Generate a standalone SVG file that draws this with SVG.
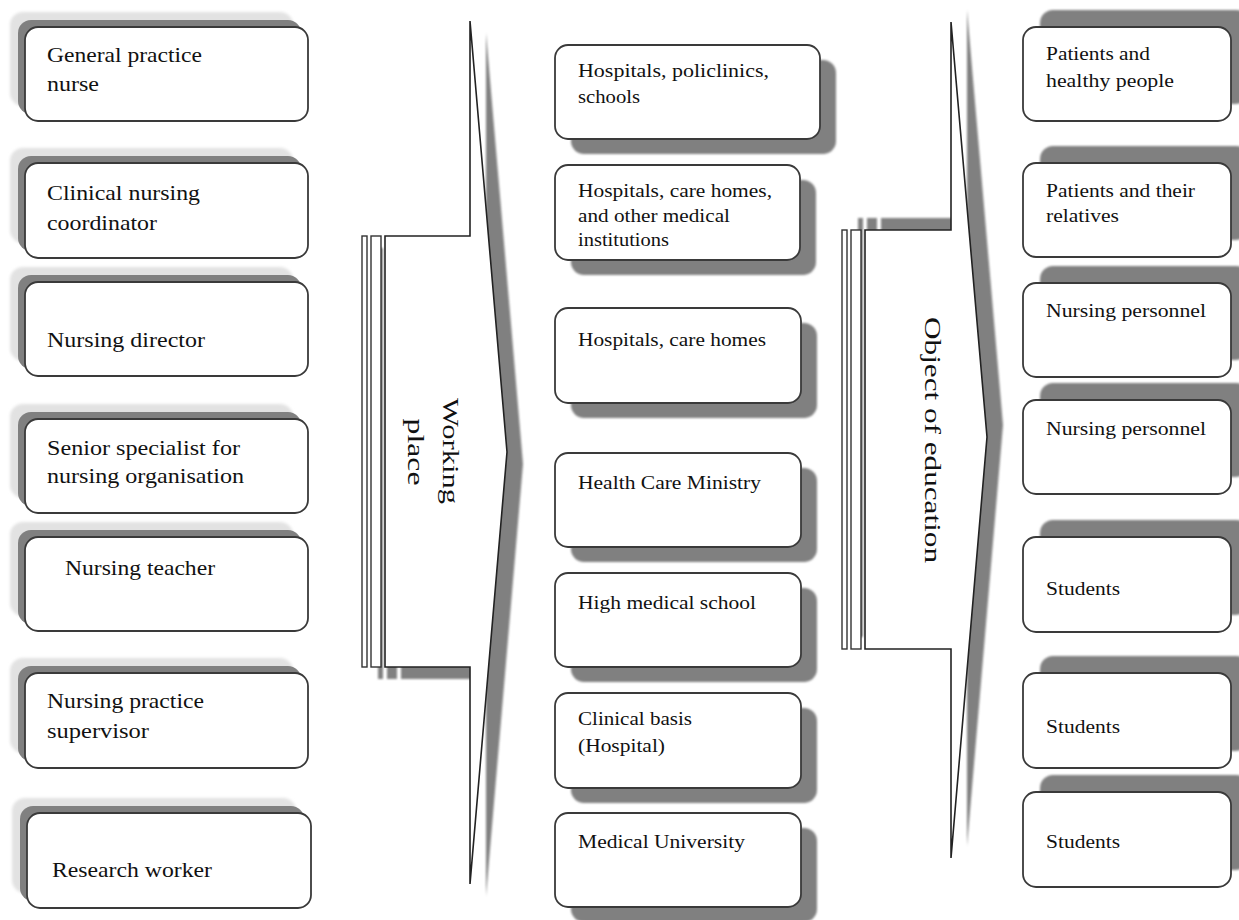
<svg xmlns="http://www.w3.org/2000/svg" width="1239" height="920" viewBox="0 0 1239 920">
<style>
.box{fill:#fff;stroke:#3a3a3a;stroke-width:1.8}
.sh{fill:#808080}
.shl{fill:#e2e2e2}
.arr{fill:#fff;stroke:#222;stroke-width:1.6;stroke-linejoin:miter}
.stripe{fill:#fff;stroke:#333;stroke-width:1.4}
.ash{fill:#808080}
.tl{font-family:"Liberation Serif","Times New Roman",serif;font-size:22px;fill:#111}
.tm{font-family:"Liberation Serif","Times New Roman",serif;font-size:18.5px;fill:#111}
.ta{font-family:"Liberation Serif","Times New Roman",serif;font-size:23px;fill:#111;text-anchor:middle}
</style>
<defs>
<filter id="b1" x="-10%" y="-10%" width="120%" height="120%"><feGaussianBlur stdDeviation="1"/></filter>
<filter id="b2" x="-10%" y="-10%" width="120%" height="120%"><feGaussianBlur stdDeviation="1.5"/></filter>
</defs>
<rect width="1239" height="920" fill="#fff"/>

<!-- Connectors (block arrows) -->
<g id="connectors">
  <g id="arrow-working-place">
    <g class="ash" filter="url(#b1)" transform="translate(16,12)">
      <path d="M470,21 L507,452 L470,884 L470,667 L385,667 L385,236 L470,236 Z"/>
      <rect x="362" y="236" width="5" height="431"/>
      <rect x="371" y="236" width="10" height="431"/>
    </g>
    <path class="arr" d="M470,21 L507,452 L470,884 L470,667 L385,667 L385,236 L470,236 Z"/>
    <rect class="stripe" x="362" y="236" width="5" height="431"/>
    <rect class="stripe" x="371" y="236" width="10" height="431"/>
    <text class="ta" transform="translate(443,451) rotate(90)" textLength="106" lengthAdjust="spacingAndGlyphs">Working</text>
    <text class="ta" transform="translate(408,452) rotate(90)" textLength="67" lengthAdjust="spacingAndGlyphs">place</text>
  </g>
  <g id="arrow-object-of-education">
    <g class="ash" filter="url(#b1)" transform="translate(16,-12)">
      <path d="M951,22 L987,437 L951,858 L951,649 L865,649 L865,230 L951,230 Z"/>
      <rect x="842" y="230" width="5" height="419"/>
      <rect x="851" y="230" width="10" height="419"/>
    </g>
    <path class="arr" d="M951,22 L987,437 L951,858 L951,649 L865,649 L865,230 L951,230 Z"/>
    <rect class="stripe" x="842" y="230" width="5" height="419"/>
    <rect class="stripe" x="851" y="230" width="10" height="419"/>
    <text class="ta" transform="translate(925,440) rotate(90)" textLength="246" lengthAdjust="spacingAndGlyphs">Object of education</text>
  </g>
</g>

<!-- Left column -->
<g id="n-general-practice-nurse">
  <rect class="shl" filter="url(#b2)" x="10" y="12" width="283" height="94" rx="13"/>
  <rect class="sh" x="18" y="20" width="283" height="94" rx="13"/>
  <rect class="box" x="25" y="27" width="283" height="94" rx="13"/>
  <text class="tl" x="47" y="62" textLength="155" lengthAdjust="spacingAndGlyphs">General practice</text>
  <text class="tl" x="47" y="91" textLength="52" lengthAdjust="spacingAndGlyphs">nurse</text>
</g>
<g id="n-clinical-nursing-coordinator">
  <rect class="shl" filter="url(#b2)" x="10" y="148" width="283" height="95" rx="13"/>
  <rect class="sh" x="18" y="156" width="283" height="95" rx="13"/>
  <rect class="box" x="25" y="163" width="283" height="95" rx="13"/>
  <text class="tl" x="47" y="200" textLength="153" lengthAdjust="spacingAndGlyphs">Clinical nursing</text>
  <text class="tl" x="47" y="230" textLength="110" lengthAdjust="spacingAndGlyphs">coordinator</text>
</g>
<g id="n-nursing-director">
  <rect class="shl" filter="url(#b2)" x="10" y="267" width="283" height="94" rx="13"/>
  <rect class="sh" x="18" y="275" width="283" height="94" rx="13"/>
  <rect class="box" x="25" y="282" width="283" height="94" rx="13"/>
  <text class="tl" x="47" y="347" textLength="158" lengthAdjust="spacingAndGlyphs">Nursing director</text>
</g>
<g id="n-senior-specialist">
  <rect class="shl" filter="url(#b2)" x="10" y="404" width="283" height="94" rx="13"/>
  <rect class="sh" x="18" y="412" width="283" height="94" rx="13"/>
  <rect class="box" x="25" y="419" width="283" height="94" rx="13"/>
  <text class="tl" x="47" y="455" textLength="193" lengthAdjust="spacingAndGlyphs">Senior specialist for</text>
  <text class="tl" x="47" y="483" textLength="197" lengthAdjust="spacingAndGlyphs">nursing organisation</text>
</g>
<g id="n-nursing-teacher">
  <rect class="shl" filter="url(#b2)" x="10" y="522" width="283" height="94" rx="13"/>
  <rect class="sh" x="18" y="530" width="283" height="94" rx="13"/>
  <rect class="box" x="25" y="537" width="283" height="94" rx="13"/>
  <text class="tl" x="65" y="575" textLength="150" lengthAdjust="spacingAndGlyphs">Nursing teacher</text>
</g>
<g id="n-nursing-practice-supervisor">
  <rect class="shl" filter="url(#b2)" x="10" y="658" width="283" height="95" rx="13"/>
  <rect class="sh" x="18" y="666" width="283" height="95" rx="13"/>
  <rect class="box" x="25" y="673" width="283" height="95" rx="13"/>
  <text class="tl" x="47" y="708" textLength="157" lengthAdjust="spacingAndGlyphs">Nursing practice</text>
  <text class="tl" x="47" y="738" textLength="102" lengthAdjust="spacingAndGlyphs">supervisor</text>
</g>
<g id="n-research-worker">
  <rect class="shl" filter="url(#b2)" x="12" y="798" width="284" height="95" rx="13"/>
  <rect class="sh" x="20" y="806" width="284" height="95" rx="13"/>
  <rect class="box" x="27" y="813" width="284" height="95" rx="13"/>
  <text class="tl" x="52" y="877" textLength="160" lengthAdjust="spacingAndGlyphs">Research worker</text>
</g>

<!-- Middle column -->
<g id="n-hospitals-policlinics-schools">
  <rect class="sh" filter="url(#b1)" x="571" y="60" width="265" height="94" rx="13"/>
  <rect class="box" x="555" y="45" width="265" height="94" rx="13"/>
  <text class="tm" x="578" y="77" textLength="191" lengthAdjust="spacingAndGlyphs">Hospitals, policlinics,</text>
  <text class="tm" x="578" y="103" textLength="62" lengthAdjust="spacingAndGlyphs">schools</text>
</g>
<g id="n-hospitals-care-homes-other">
  <rect class="sh" filter="url(#b1)" x="571" y="180" width="245" height="95" rx="13"/>
  <rect class="box" x="555" y="165" width="245" height="95" rx="13"/>
  <text class="tm" x="578" y="197" textLength="194" lengthAdjust="spacingAndGlyphs">Hospitals, care homes,</text>
  <text class="tm" x="578" y="222" textLength="152" lengthAdjust="spacingAndGlyphs">and other medical</text>
  <text class="tm" x="578" y="246" textLength="91" lengthAdjust="spacingAndGlyphs">institutions</text>
</g>
<g id="n-hospitals-care-homes">
  <rect class="sh" filter="url(#b1)" x="571" y="323" width="246" height="95" rx="13"/>
  <rect class="box" x="555" y="308" width="246" height="95" rx="13"/>
  <text class="tm" x="578" y="346" textLength="188" lengthAdjust="spacingAndGlyphs">Hospitals, care homes</text>
</g>
<g id="n-health-care-ministry">
  <rect class="sh" filter="url(#b1)" x="571" y="468" width="246" height="94" rx="13"/>
  <rect class="box" x="555" y="453" width="246" height="94" rx="13"/>
  <text class="tm" x="578" y="489" textLength="183" lengthAdjust="spacingAndGlyphs">Health Care Ministry</text>
</g>
<g id="n-high-medical-school">
  <rect class="sh" filter="url(#b1)" x="571" y="588" width="246" height="94" rx="13"/>
  <rect class="box" x="555" y="573" width="246" height="94" rx="13"/>
  <text class="tm" x="578" y="609" textLength="178" lengthAdjust="spacingAndGlyphs">High medical school</text>
</g>
<g id="n-clinical-basis">
  <rect class="sh" filter="url(#b1)" x="571" y="708" width="246" height="95" rx="13"/>
  <rect class="box" x="555" y="693" width="246" height="95" rx="13"/>
  <text class="tm" x="578" y="725" textLength="114" lengthAdjust="spacingAndGlyphs">Clinical basis</text>
  <text class="tm" x="578" y="752" textLength="87" lengthAdjust="spacingAndGlyphs">(Hospital)</text>
</g>
<g id="n-medical-university">
  <rect class="sh" filter="url(#b1)" x="571" y="828" width="246" height="94" rx="13"/>
  <rect class="box" x="555" y="813" width="246" height="94" rx="13"/>
  <text class="tm" x="578" y="848" textLength="167" lengthAdjust="spacingAndGlyphs">Medical University</text>
</g>

<!-- Right column -->
<g id="n-patients-healthy">
  <rect class="sh" filter="url(#b1)" x="1040" y="10" width="209" height="94" rx="13"/>
  <rect class="box" x="1023" y="27" width="208" height="94" rx="13"/>
  <text class="tm" x="1046" y="60" textLength="104" lengthAdjust="spacingAndGlyphs">Patients and</text>
  <text class="tm" x="1046" y="87" textLength="128" lengthAdjust="spacingAndGlyphs">healthy people</text>
</g>
<g id="n-patients-relatives">
  <rect class="sh" filter="url(#b1)" x="1040" y="146" width="209" height="94" rx="13"/>
  <rect class="box" x="1023" y="163" width="208" height="94" rx="13"/>
  <text class="tm" x="1046" y="197" textLength="149" lengthAdjust="spacingAndGlyphs">Patients and their</text>
  <text class="tm" x="1046" y="222" textLength="73" lengthAdjust="spacingAndGlyphs">relatives</text>
</g>
<g id="n-nursing-personnel-1">
  <rect class="sh" filter="url(#b1)" x="1040" y="266" width="209" height="94" rx="13"/>
  <rect class="box" x="1023" y="283" width="208" height="94" rx="13"/>
  <text class="tm" x="1046" y="317" textLength="160" lengthAdjust="spacingAndGlyphs">Nursing personnel</text>
</g>
<g id="n-nursing-personnel-2">
  <rect class="sh" filter="url(#b1)" x="1040" y="383" width="209" height="94" rx="13"/>
  <rect class="box" x="1023" y="400" width="208" height="94" rx="13"/>
  <text class="tm" x="1046" y="435" textLength="160" lengthAdjust="spacingAndGlyphs">Nursing personnel</text>
</g>
<g id="n-students-1">
  <rect class="sh" filter="url(#b1)" x="1040" y="520" width="209" height="95" rx="13"/>
  <rect class="box" x="1023" y="537" width="208" height="95" rx="13"/>
  <text class="tm" x="1046" y="595" textLength="74" lengthAdjust="spacingAndGlyphs">Students</text>
</g>
<g id="n-students-2">
  <rect class="sh" filter="url(#b1)" x="1040" y="656" width="209" height="95" rx="13"/>
  <rect class="box" x="1023" y="673" width="208" height="95" rx="13"/>
  <text class="tm" x="1046" y="733" textLength="74" lengthAdjust="spacingAndGlyphs">Students</text>
</g>
<g id="n-students-3">
  <rect class="sh" filter="url(#b1)" x="1040" y="775" width="209" height="95" rx="13"/>
  <rect class="box" x="1023" y="792" width="208" height="95" rx="13"/>
  <text class="tm" x="1046" y="848" textLength="74" lengthAdjust="spacingAndGlyphs">Students</text>
</g>
</svg>
